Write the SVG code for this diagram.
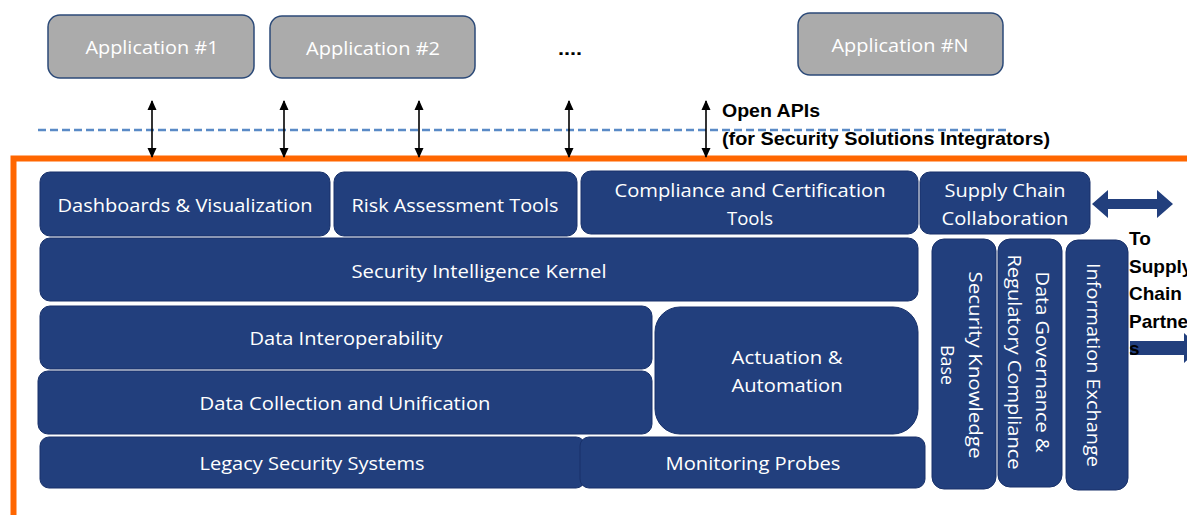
<svg xmlns="http://www.w3.org/2000/svg" width="1187" height="515" viewBox="0 0 1187 515">
  <defs>
    <marker id="tip" viewBox="0 0 10 10" refX="9" refY="5" markerWidth="10" markerHeight="10" markerUnits="userSpaceOnUse" orient="auto-start-reverse">
      <path d="M0,0.5 L10,5 L0,9.5 z" fill="#000"/>
    </marker>
    <style>
      .app { fill: #ababab; stroke: #2c4a78; stroke-width: 1.5; }
      .app-t { fill: #fff; font-family: "Open Sans", "Liberation Sans", sans-serif; font-size: 18px; text-anchor: middle; }
      .blk { fill: #223f7d; stroke: #18316a; stroke-width: 1; }
      .blk-t { fill: #fff; font-family: "Open Sans", "Liberation Sans", sans-serif; font-size: 18px; text-anchor: middle; }
      .lbl { fill: #000; font-family: "Liberation Sans", Arial, sans-serif; font-weight: bold; font-size: 18px; }
      .side { fill: #000; font-family: "Liberation Sans", Arial, sans-serif; font-weight: bold; font-size: 19px; }
      .api { stroke: #000; stroke-width: 1.6; fill: none; marker-start: url(#tip); marker-end: url(#tip); }
      .harrow { fill: #223f7d; }
    </style>
  </defs>

  <!-- applications -->
  <g id="app1">
    <rect class="app" x="48" y="15" width="206" height="63" rx="12"/>
    <text class="app-t" x="152" y="54" textLength="133" lengthAdjust="spacingAndGlyphs">Application #1</text>
  </g>
  <g id="app2">
    <rect class="app" x="270" y="16" width="205" height="62" rx="12"/>
    <text class="app-t" x="373" y="55" textLength="134" lengthAdjust="spacingAndGlyphs">Application #2</text>
  </g>
  <g id="app-more">
    <text class="lbl" x="558" y="55" textLength="24" lengthAdjust="spacingAndGlyphs">....</text>
  </g>
  <g id="appN">
    <rect class="app" x="798" y="13" width="205" height="62" rx="12"/>
    <text class="app-t" x="900" y="52" textLength="137" lengthAdjust="spacingAndGlyphs">Application #N</text>
  </g>

  <!-- API boundary -->
  <g id="api-boundary">
    <line x1="38" y1="130" x2="1010" y2="130" stroke="#5a8ac6" stroke-width="2.4" stroke-dasharray="8 4"/>
    <text class="lbl" x="722" y="117" textLength="98" lengthAdjust="spacingAndGlyphs">Open APIs</text>
    <text class="lbl" x="722" y="145" textLength="328" lengthAdjust="spacingAndGlyphs">(for Security Solutions Integrators)</text>
  </g>

  <!-- platform frame -->
  <g id="frame">
    <path d="M13.5,515 V158.5 H1187" fill="none" stroke="#ff6600" stroke-width="6"/>
  </g>

  <!-- connectors -->
  <g id="connectors">
    <line class="api" x1="152" y1="101" x2="152" y2="157"/>
    <line class="api" x1="284" y1="101" x2="284" y2="157"/>
    <line class="api" x1="419" y1="101" x2="419" y2="157"/>
    <line class="api" x1="569" y1="101" x2="569" y2="157"/>
    <line class="api" x1="706" y1="101" x2="706" y2="157"/>
    <polygon class="harrow" points="1092,204 1108,190 1108,199 1157,199 1157,190 1173,204 1157,218 1157,209 1108,209 1108,218"/>
    <polygon class="harrow" points="1130,341 1184,341 1184,333 1200,348 1184,363 1184,355 1130,355"/>
  </g>

  <!-- top tool row -->
  <g id="dashboards">
    <rect class="blk" x="40" y="172" width="290" height="64" rx="10"/>
    <text class="blk-t" x="185" y="212" textLength="255" lengthAdjust="spacingAndGlyphs">Dashboards &amp; Visualization</text>
  </g>
  <g id="risk">
    <rect class="blk" x="334" y="172" width="243" height="64" rx="10"/>
    <text class="blk-t" x="455" y="212" textLength="207" lengthAdjust="spacingAndGlyphs">Risk Assessment Tools</text>
  </g>
  <g id="compliance">
    <rect class="blk" x="581" y="171" width="337" height="63" rx="10"/>
    <text class="blk-t" x="750" y="197" textLength="271" lengthAdjust="spacingAndGlyphs">Compliance and Certification</text>
    <text class="blk-t" x="750" y="225" textLength="46" lengthAdjust="spacingAndGlyphs">Tools</text>
  </g>
  <g id="supply-chain">
    <rect class="blk" x="920" y="172" width="170" height="62" rx="10"/>
    <text class="blk-t" x="1005" y="197" textLength="121" lengthAdjust="spacingAndGlyphs">Supply Chain</text>
    <text class="blk-t" x="1005" y="225" textLength="127" lengthAdjust="spacingAndGlyphs">Collaboration</text>
  </g>

  <!-- core layers -->
  <g id="kernel">
    <rect class="blk" x="40" y="238" width="878" height="63" rx="10"/>
    <text class="blk-t" x="479" y="278" textLength="255" lengthAdjust="spacingAndGlyphs">Security Intelligence Kernel</text>
  </g>
  <g id="interop">
    <rect class="blk" x="40" y="306" width="612" height="63" rx="10"/>
    <text class="blk-t" x="346" y="345" textLength="193" lengthAdjust="spacingAndGlyphs">Data Interoperability</text>
  </g>
  <g id="collection">
    <rect class="blk" x="38" y="371" width="614" height="63" rx="10"/>
    <text class="blk-t" x="345" y="410" textLength="291" lengthAdjust="spacingAndGlyphs">Data Collection and Unification</text>
  </g>
  <g id="actuation">
    <rect class="blk" x="655" y="307" width="263" height="127" rx="25"/>
    <text class="blk-t" x="787" y="364" textLength="111" lengthAdjust="spacingAndGlyphs">Actuation &amp;</text>
    <text class="blk-t" x="787" y="392" textLength="111" lengthAdjust="spacingAndGlyphs">Automation</text>
  </g>
  <g id="legacy">
    <rect class="blk" x="40" y="437" width="545" height="51" rx="9"/>
    <text class="blk-t" x="312" y="470" textLength="225" lengthAdjust="spacingAndGlyphs">Legacy Security Systems</text>
  </g>
  <g id="probes">
    <rect class="blk" x="580" y="437" width="345" height="51" rx="9"/>
    <text class="blk-t" x="753" y="470" textLength="175" lengthAdjust="spacingAndGlyphs">Monitoring Probes</text>
  </g>

  <!-- vertical pillars -->
  <g id="knowledge-base">
    <rect class="blk" x="932" y="239" width="64" height="250" rx="12"/>
    <text class="blk-t" transform="translate(969,365) rotate(90)" x="0" y="0" textLength="187" lengthAdjust="spacingAndGlyphs">Security Knowledge</text>
    <text class="blk-t" transform="translate(941,365) rotate(90)" x="0" y="0" textLength="40" lengthAdjust="spacingAndGlyphs">Base</text>
  </g>
  <g id="governance">
    <rect class="blk" x="998" y="239" width="64" height="248" rx="12"/>
    <text class="blk-t" transform="translate(1036,362) rotate(90)" x="0" y="0" textLength="181" lengthAdjust="spacingAndGlyphs">Data Governance &amp;</text>
    <text class="blk-t" transform="translate(1008,362) rotate(90)" x="0" y="0" textLength="215" lengthAdjust="spacingAndGlyphs">Regulatory Compliance</text>
  </g>
  <g id="info-exchange">
    <rect class="blk" x="1066" y="240" width="62" height="250" rx="12"/>
    <text class="blk-t" transform="translate(1087,365) rotate(90)" x="0" y="0" textLength="204" lengthAdjust="spacingAndGlyphs">Information Exchange</text>
  </g>

  <!-- external partners label -->
  <g id="partners">
    <text class="side" x="1129" y="245">To</text>
    <text class="side" x="1129" y="273">Supply</text>
    <text class="side" x="1129" y="300">Chain</text>
    <text class="side" x="1129" y="328">Partne</text>
    <text class="side" x="1129" y="355">s</text>
  </g>
</svg>
